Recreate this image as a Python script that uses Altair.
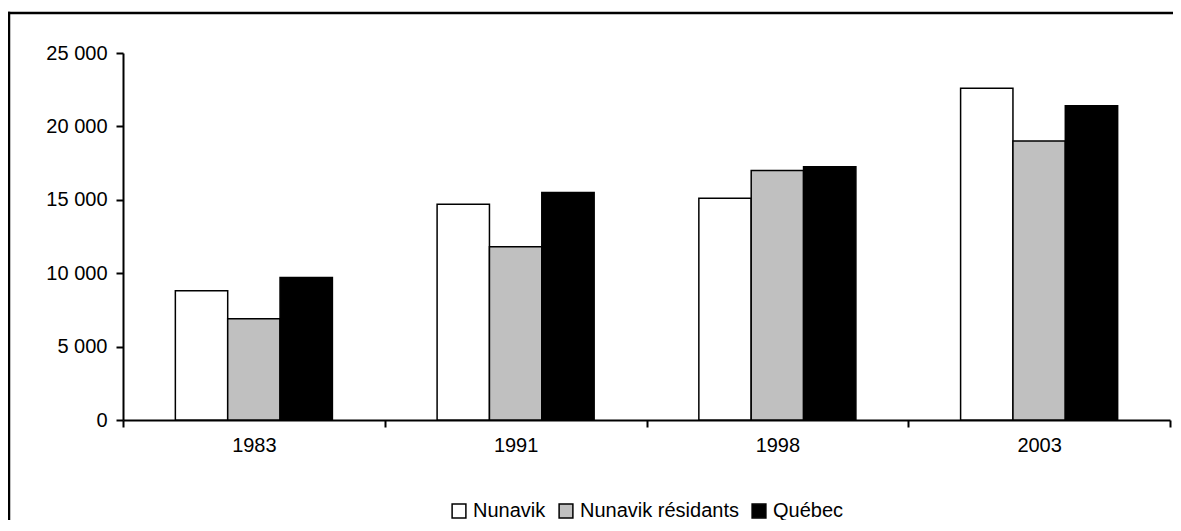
import altair as alt
import pandas as pd

years = ["1983", "1991", "1998", "2003"]
series = ["Nunavik", "Nunavik résidants", "Québec"]
nunavik = [8800, 14700, 15100, 22600]
nunavik_res = [6900, 11800, 17000, 19000]
quebec = [9700, 15500, 17250, 21400]
colors = ["#ffffff", "#c0c0c0", "#000000"]

rows = []
for i, y in enumerate(years):
    for s, vals in zip(series, [nunavik, nunavik_res, quebec]):
        rows.append({"year": y, "series": s, "value": vals[i]})
df = pd.DataFrame(rows)

FONT = "Liberation Sans"

bars = alt.Chart(df).mark_bar(stroke="black", strokeWidth=1.5).encode(
    x=alt.X("year:N", sort=years, title=None,
            scale=alt.Scale(paddingInner=0, paddingOuter=0),
            axis=alt.Axis(labelAngle=0, tickBand="extent", labelFont=FONT,
                          labelFontSize=20, labelColor="black", labelPadding=8,
                          domainColor="black", domainWidth=2, tickColor="black",
                          tickWidth=2, tickSize=7)),
    xOffset=alt.XOffset("series:N", sort=series,
                        scale=alt.Scale(paddingInner=0, paddingOuter=1)),
    y=alt.Y("value:Q", title=None,
            scale=alt.Scale(domain=[0, 25000], nice=False),
            axis=alt.Axis(values=[0, 5000, 10000, 15000, 20000, 25000],
                          labelExpr="replace(format(datum.value, ','), ',', ' ')",
                          labelFont=FONT, labelFontSize=20, labelColor="black",
                          labelPadding=9, grid=False, domainColor="black",
                          domainWidth=2, tickColor="black", tickWidth=2,
                          tickSize=7)),
    color=alt.Color("series:N", sort=series,
                    scale=alt.Scale(domain=series, range=colors),
                    legend=alt.Legend(title=None, orient="none", legendX=326, legendY=448,
                                      direction="horizontal",
                                      symbolType="square", symbolSize=190,
                                      symbolStrokeColor="black", symbolStrokeWidth=1.5,
                                      labelFont=FONT, labelFontSize=20, labelColor="black",
                                      labelOffset=4, columnPadding=10)),
)

frame = alt.Data(values=[{"a": 1}])
left_edge = alt.Chart(frame).mark_rect(color="black", strokeWidth=0).encode(
    x=alt.value(-115.25), x2=alt.value(-112.75), y=alt.value(-41.25), y2=alt.value(467)
)
top_edge = alt.Chart(frame).mark_rect(color="black", strokeWidth=0).encode(
    x=alt.value(-115.25), x2=alt.value(1050), y=alt.value(-41.25), y2=alt.value(-38.75)
)

chart = alt.layer(left_edge, top_edge, bars).properties(
    width=1047, height=367,
    autosize=alt.AutoSizeParams(type="none"),
    padding={"left": 115, "top": 45, "right": 3, "bottom": 100},
    background="white",
).configure_view(strokeWidth=0, stroke="transparent")

chart.save("out.html", embed_options={"renderer": "svg", "actions": False})
